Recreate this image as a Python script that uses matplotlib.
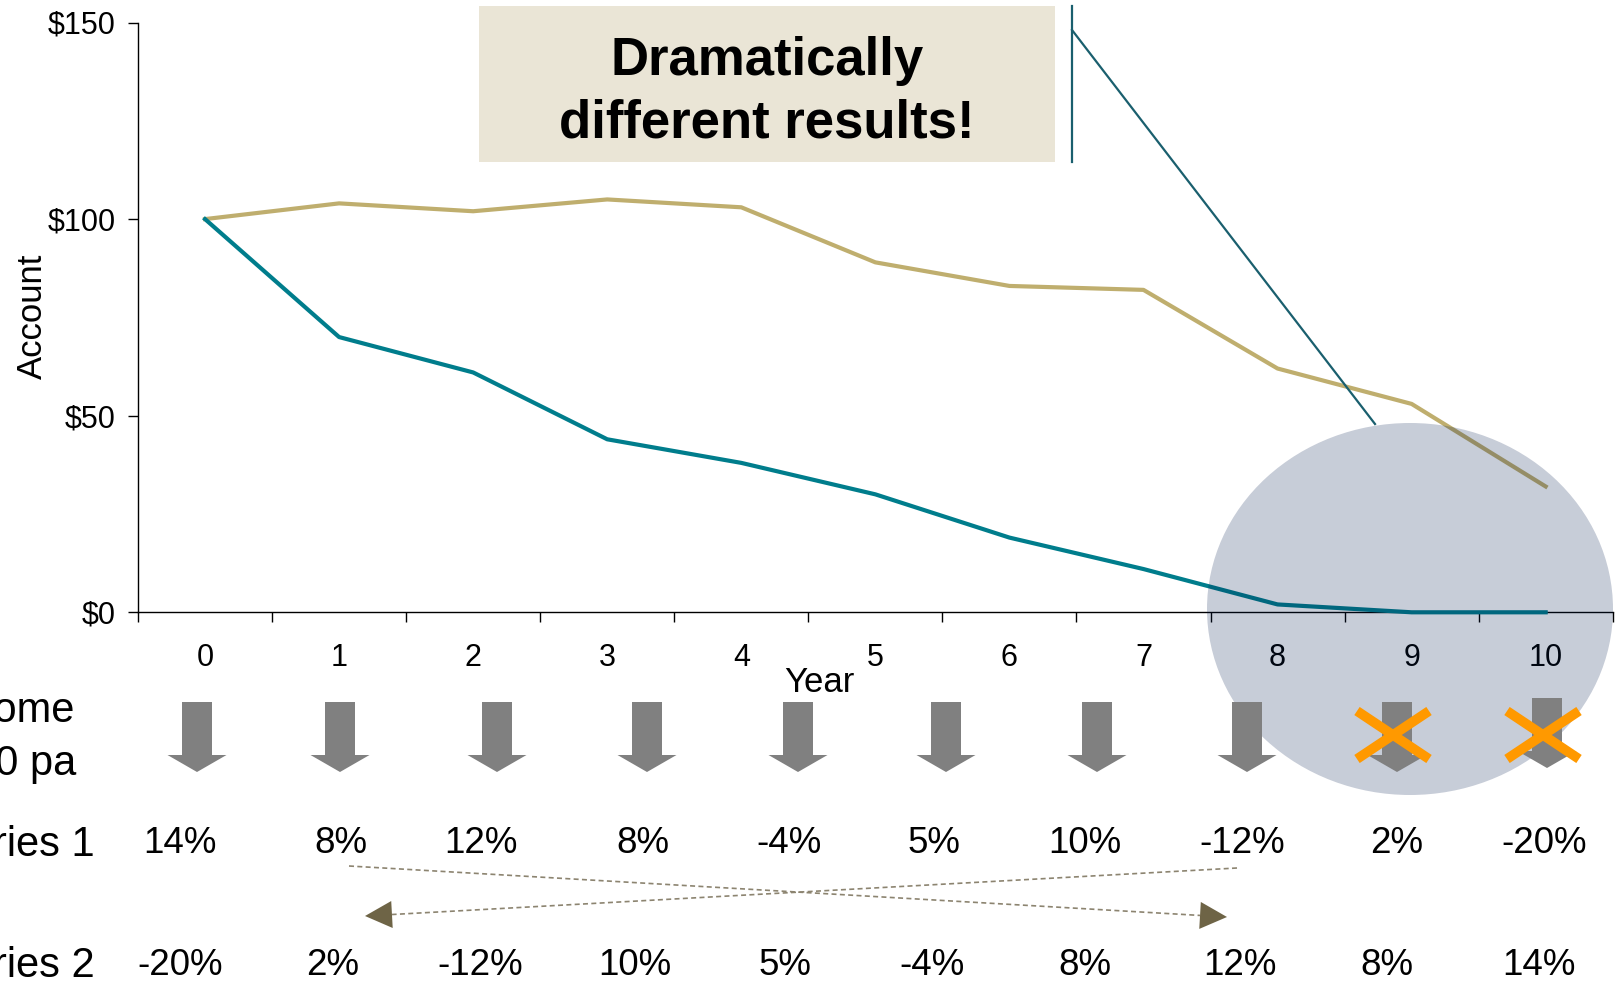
import numpy as np
import matplotlib
matplotlib.use("Agg")
import matplotlib.pyplot as plt
from matplotlib import font_manager
from matplotlib.patches import Ellipse, Rectangle, Polygon

plt.rcParams['font.family'] = ['Liberation Sans', 'DejaVu Sans']

# ---- data -------------------------------------------------------------
years = list(range(11))
balance_series1 = [100, 104, 102, 105, 103, 89, 83, 82, 62, 53, 32]
balance_series2 = [100, 70, 61, 44, 38, 30, 19, 11, 2, 0, 0]
returns_series1 = [14, 8, 12, 8, -4, 5, 10, -12, 2, -20]
returns_series2 = [-20, 2, -12, 10, 5, -4, 8, 12, 8, 14]
y_ticks = [0, 50, 100, 150]
y_tick_labels = ['$0', '$50', '$100', '$150']
income_skipped = [False] * 8 + [True, True]   # withdrawals no longer possible

# ---- colours -----------------------------------------------------------
TAN = '#BFAE6E'
TEAL = '#007D8C'
CALLOUT = '#1A5F6E'
BOX = '#EAE5D6'
GREY = '#808080'
ORANGE = '#FF9900'
DASH = '#8C8470'
HEAD = '#6E6446'

# condensed bold face for the headline, if present
_names = {f.name for f in font_manager.fontManager.ttflist}
if 'Liberation Sans Narrow' in _names:
    HEAD_FONT, HEAD_SIZE = ['Liberation Sans Narrow', 'Liberation Sans'], 44
else:
    HEAD_FONT, HEAD_SIZE = ['Liberation Sans', 'DejaVu Sans'], 38

W, H = 1620, 984
fig = plt.figure(figsize=(W / 100, H / 100), dpi=100)

# ---- main line chart --------------------------------------------------
ax_l, ax_r, ax_t, ax_b = 138, 1612.7, 22.5, 612.3
ax = fig.add_axes([ax_l / W, 1 - ax_b / H, (ax_r - ax_l) / W, (ax_b - ax_t) / H])
ax.plot(years, balance_series1, color=TAN, lw=3, clip_on=False, zorder=3)
ax.plot(years, balance_series2, color=TEAL, lw=3, clip_on=False, zorder=3)
ax.set_xlim(-0.5, 10.5)
ax.set_ylim(0, 150)
ax.spines['top'].set_visible(False)
ax.spines['right'].set_visible(False)
for s in ('left', 'bottom'):
    ax.spines[s].set_linewidth(1.0)
ax.set_yticks(y_ticks)
ax.set_yticklabels(y_tick_labels)
ax.set_xticks(np.arange(-0.5, 11, 1.0))
ax.set_xticklabels([])
ax.set_xticks(years, minor=True)
ax.set_xticklabels([str(y) for y in years], minor=True)
ax.tick_params(axis='y', direction='out', length=7.2, width=1, pad=9, labelsize=22)
ax.tick_params(axis='x', which='major', direction='out', length=7.2, width=1)
ax.tick_params(axis='x', which='minor', length=0, pad=22, labelsize=22)

# ---- overlay in pixel coordinates -------------------------------------
ov = fig.add_axes([0, 0, 1, 1], zorder=5)
ov.set_xlim(0, W)
ov.set_ylim(H, 0)
ov.axis('off')
ov.patch.set_alpha(0)

ov.text(819, 692, 'Year', ha='center', va='baseline', fontsize=25)
ov.text(42, 316, 'Account', rotation=90, rotation_mode='anchor',
        ha='center', va='baseline', fontsize=25)

# highlight over the final years
ov.add_patch(Ellipse((1410, 609), 406, 372, facecolor='#001C4E', alpha=0.22,
                     edgecolor='none', zorder=1))

# callout box
ov.add_patch(Rectangle((479, 6), 1055 - 479, 162 - 6, facecolor=BOX,
                       edgecolor='none', zorder=2))
ov.text(767, 75, 'Dramatically', ha='center', va='baseline', fontsize=HEAD_SIZE,
        fontweight='bold', family=HEAD_FONT, zorder=3)
ov.text(767, 137, 'different results!', ha='center', va='baseline', fontsize=HEAD_SIZE,
        fontweight='bold', family=HEAD_FONT, zorder=3)
ov.plot([1072, 1072], [6, 162], color=CALLOUT, lw=1.6, zorder=3)
ov.plot([1072, 1375], [30, 424], color=CALLOUT, lw=1.6, zorder=3)

# left row labels
ov.text(75, 722, 'Income', ha='right', va='baseline', fontsize=30)
ov.text(76, 775, '$10 pa', ha='right', va='baseline', fontsize=30)
ov.text(95, 856, 'Series 1', ha='right', va='baseline', fontsize=30)
ov.text(95, 977, 'Series 2', ha='right', va='baseline', fontsize=30)

# income withdrawal arrows
arrow_x = [197, 340, 497, 647, 798, 946, 1097, 1247, 1397, 1547]
arrow_dy = [0, 0, 0, 0, 0, 0, 0, 0, 0, -4]
for cx, dy, skipped in zip(arrow_x, arrow_dy, income_skipped):
    top, neck, tip = 702 + dy, 755 + dy, 772 + dy
    shape = [(cx - 15, top), (cx + 15, top), (cx + 15, neck), (cx + 29.5, neck),
             (cx, tip), (cx - 29.5, neck), (cx - 15, neck)]
    ov.add_patch(Polygon(shape, closed=True, facecolor=GREY, edgecolor='none', zorder=4))
    if skipped:
        xc, yc = cx - 4, 735
        ov.plot([xc - 36, xc + 36], [yc - 24, yc + 24], color=ORANGE, lw=7,
                solid_capstyle='butt', zorder=5)
        ov.plot([xc - 36, xc + 36], [yc + 24, yc - 24], color=ORANGE, lw=7,
                solid_capstyle='butt', zorder=5)

# return sequences
row1_x = [180, 341, 481, 643, 789, 934, 1085, 1242, 1397, 1544]
row2_x = [180, 333, 480, 635, 785, 932, 1085, 1240, 1387, 1539]
for x, r in zip(row1_x, returns_series1):
    ov.text(x, 853, f'{r}%', ha='center', va='baseline', fontsize=26.5)
for x, r in zip(row2_x, returns_series2):
    ov.text(x, 975, f'{r}%', ha='center', va='baseline', fontsize=26.5)


def dashed_arrow(x0, y0, x1, y1, head=27):
    """Dashed line from (x0, y0) ending in a solid triangular head at (x1, y1)."""
    d = np.array([x1 - x0, y1 - y0], dtype=float)
    d /= np.hypot(*d)
    n = np.array([-d[1], d[0]])
    base = np.array([x1, y1]) - d * head
    ov.plot([x0, base[0]], [y0, base[1]], color=DASH, lw=1.2,
            linestyle=(0, (3, 2)), zorder=3)
    tri = [tuple(np.array([x1, y1])), tuple(base + n * head / 2), tuple(base - n * head / 2)]
    ov.add_patch(Polygon(tri, closed=True, facecolor=HEAD, edgecolor='none', zorder=4))


dashed_arrow(349, 866, 1227, 917)
dashed_arrow(1237, 868, 365, 916)

fig.savefig('out.png', dpi=100)
